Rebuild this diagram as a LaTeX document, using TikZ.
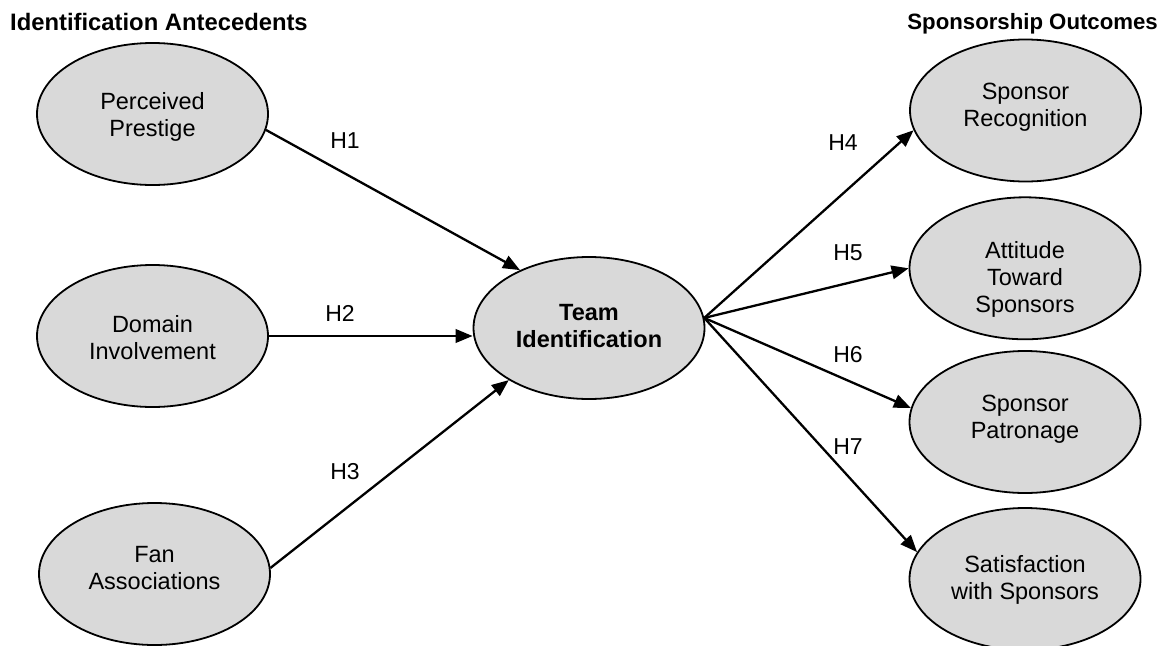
\documentclass[tikz,border=0pt]{standalone}
\usepackage{fontspec}
\setmainfont{Liberation Sans}
\usetikzlibrary{shapes.geometric,arrows.meta}
\definecolor{graybg}{HTML}{D9D9D9}
\begin{document}
\begin{tikzpicture}[x=1pt,y=-1pt,
  construct/.style={ellipse,draw=black,line width=1.8pt,fill=graybg,minimum width=231pt,minimum height=142pt,inner sep=0pt},
  ctext/.style={inner sep=0pt,align=center,font=\fontsize{23.5}{27}\selectfont},
  btext/.style={inner sep=0pt,align=center,font=\bfseries\fontsize{23.5}{27}\selectfont},
  hyparrow/.style={line width=2.3pt,-{Triangle[length=17pt,width=13.5pt]}},
  hlabel/.style={font=\fontsize{23}{27}\selectfont,inner sep=0pt},
  heading/.style={inner sep=0pt}]
\useasboundingbox (0,0) rectangle (1169,645);
\node[heading,font=\bfseries\fontsize{23.8}{27}\selectfont,anchor=base west] (hl) at (10,30.5) {Identification Antecedents};
\node[heading,font=\bfseries\fontsize{22.2}{27}\selectfont,anchor=base east] (hr) at (1158,29) {Sponsorship Outcomes};
\node[construct,label={[ctext,yshift=-2.9pt]center:{Perceived\\Prestige}}] (pp) at (152.5,114) {};
\node[construct,label={[ctext,yshift=-1.8pt]center:{Domain\\Involvement}}] (di) at (152.5,336) {};
\node[construct,label={[ctext,yshift=5.9pt]center:{Fan\\Associations}}] (fa) at (154.5,574) {};
\node[construct,label={[btext,yshift=2.2pt]center:{Team\\Identification}}] (ti) at (589,328) {};
\node[construct,label={[ctext,yshift=3.6pt]center:{Sponsor\\Recognition}}] (sr) at (1025.5,110.5) {};
\node[construct,label={[ctext,yshift=-11pt]center:{Attitude\\Toward\\Sponsors}}] (ats) at (1025,268.3) {};
\node[construct,label={[ctext,yshift=2.8pt]center:{Sponsor\\Patronage}}] (spat) at (1025,422) {};
\node[construct,label={[ctext,yshift=-1.2pt]center:{Satisfaction\\with Sponsors}}] (sat) at (1025,579) {};
\draw[hyparrow] (pp.-8) -- (ti.140);
\draw[hyparrow] (di.east) -- (di.east -| ti.west);
\draw[hyparrow] (fa.3) -- (ti.213);
\draw[hyparrow] (ti.5) -- (sr.190);
\draw[hyparrow] (ti.5) -- (ats.180);
\draw[hyparrow] (ti.5) -- (spat.173);
\draw[hyparrow] (ti.5) -- (sat.166);
\node[hlabel] (h1) at (345,141) {H1};
\node[hlabel] (h2) at (340,313) {H2};
\node[hlabel] (h3) at (345,472) {H3};
\node[hlabel] (h4) at (843,143) {H4};
\node[hlabel] (h5) at (848,253) {H5};
\node[hlabel] (h6) at (848,355) {H6};
\node[hlabel] (h7) at (848,447) {H7};
\end{tikzpicture}
\end{document}
